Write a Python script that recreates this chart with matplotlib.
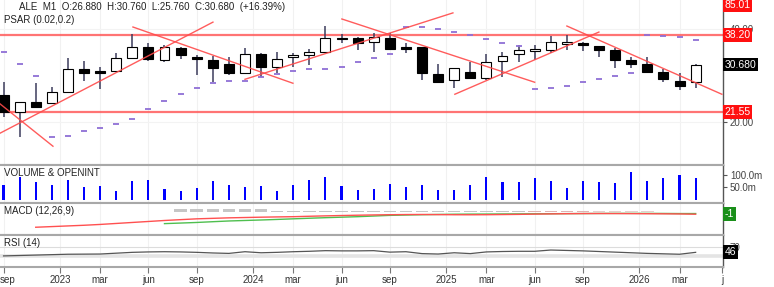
import matplotlib
matplotlib.use("Agg")
import matplotlib.pyplot as plt
import matplotlib.transforms as mtransforms
from matplotlib.ticker import NullLocator, FixedLocator

plt.rcParams['font.family'] = ['Liberation Sans', 'DejaVu Sans']

# ---------------- data (monthly, Sep 2022 .. Apr 2026) ----------------
opens  = [24.45, 21.6, 23.27, 23.0, 25.07, 29.65, 29.3, 29.25, 32.2, 35.1, 31.8, 34.8,
          32.5, 31.8, 30.8, 28.9, 33.1, 30.2, 32.4, 33.0, 33.6, 37.5, 37.5, 36.4,
          37.3, 34.9, 34.9, 28.5, 27.4, 28.96, 27.85, 31.6, 33.2, 33.95, 34.2, 35.8,
          36.1, 35.2, 34.2, 31.8, 30.8, 28.96, 27.1, 26.88]
highs  = [27.0, 23.3, 26.8, 26.0, 32.2, 31.6, 30.2, 33.4, 38.5, 35.96, 35.5, 35.0,
          33.0, 32.7, 32.4, 34.6, 33.4, 33.6, 33.4, 34.4, 40.9, 38.4, 37.6, 38.9,
          38.7, 36.1, 35.0, 30.8, 29.9, 31.2, 33.1, 33.8, 35.5, 35.5, 37.96, 38.2,
          36.3, 35.3, 34.6, 32.4, 32.4, 29.65, 28.9, 30.76]
lows   = [20.8, 17.9, 22.2, 22.9, 25.0, 27.1, 25.5, 29.1, 32.0, 31.4, 31.2, 31.9,
          28.4, 27.0, 28.4, 28.8, 28.05, 28.75, 30.2, 30.6, 33.5, 36.1, 34.2, 33.8,
          34.3, 33.4, 27.4, 26.9, 25.7, 27.7, 27.4, 27.9, 31.2, 31.8, 33.4, 34.2,
          34.0, 32.4, 29.9, 29.9, 28.75, 27.0, 25.4, 25.76]
closes = [21.6, 23.27, 22.3, 25.07, 29.65, 28.9, 28.9, 32.3, 35.1, 31.9, 35.1, 33.0,
          32.0, 30.0, 28.9, 33.1, 30.2, 31.9, 33.0, 33.8, 37.3, 37.0, 36.1, 37.8,
          34.4, 34.5, 28.75, 26.95, 29.9, 27.85, 31.2, 32.8, 34.2, 34.4, 36.4, 36.4,
          35.4, 34.2, 31.8, 30.8, 28.96, 27.6, 26.2, 30.68]
psar   = [33.6, 30.8, 28.2, 17.9, 18.05, 18.7, 19.2, 19.7, 20.5, 22.0, 23.4, 24.6,
          25.7, 26.8, 27.1, 27.1, 28.0, 28.5, 29.25, 29.8, 29.8, 30.2, 31.3, 32.3,
          33.1, 40.7, 40.5, 39.9, 39.2, 38.2, 37.1, 36.1, 35.3, 25.6, 25.7, 26.2,
          26.9, 27.6, 28.2, 28.9, 38.25, 38.05, 37.6, 36.85]
volume_m = [59, 93, 72, 59, 79, 50, 55, 35, 75, 79, 41, 35,
            47, 75, 59, 50, 55, 36, 59, 79, 93, 56, 39, 41,
            62, 52, 59, 39, 39, 59, 93, 70, 70, 86, 75, 47,
            75, 72, 67, 113, 76, 86, 100, 86]
macd_start = 2
macd_line = [-4.55, -4.35, -4.15, -3.95, -3.7, -3.4, -3.1, -2.8, -2.5, -2.25, -2.0, -1.85,
             -1.7, -1.6, -1.5, -1.42, -1.35, -1.22, -1.1, -1.0, -0.9, -0.82, -0.75, -0.7,
             -0.68, -0.72, -0.76, -0.77, -0.75, -0.7, -0.65, -0.57, -0.5, -0.44, -0.4, -0.39,
             -0.4, -0.42, -0.45, -0.48, -0.52, -0.6]
signal_start = 10
signal_line = [-3.45, -3.28, -3.1, -2.87, -2.65, -2.5, -2.35, -2.18, -2.0, -1.82, -1.65, -1.5,
               -1.35, -1.15, -0.95, -0.85, -0.75, -0.67, -0.6, -0.57, -0.55, -0.52, -0.5, -0.47,
               -0.45, -0.42, -0.4, -0.37, -0.35, -0.35, -0.35, -0.37, -0.4, -0.4]
hist_start = 11
macd_hist = [0.9, 0.9, 0.9, 0.9, 0.9, 0.9, 0.5, 0.5, 0.5, 0.5, 0.5, 0.5, 0.5, 0.5,
             0.3, 0.3, 0.3, 0.3, 0.3, 0.3, 0.3, 0.3, 0.4, 0.4, 0.4, 0.4, 0.3, 0.3, 0.3, 0.3]
rsi = [29, 31, 33, 35, 37, 37.5, 38, 42, 46, 48, 49, 48, 46, 43, 41, 49, 44, 46, 49, 51,
       54, 53, 53, 54, 47, 49, 40, 38, 44, 40, 48, 50, 51, 51, 57, 55, 53, 50, 47, 44,
       41, 39, 37, 46]
# trend lines: (month index start, price start, month index end, price end)
trend_lines = [(-0.22, 22.9, 3.07, 16.7), (-0.22, 18.4, 13.01, 42.1),
               (8.04, 40.6, 17.98, 26.7), (15.0, 27.5, 27.92, 45.1),
               (21.02, 43.1, 33.0, 26.9), (28.04, 24.6, 36.99, 39.1),
               (35.0, 40.9, 44.63, 24.6)]
levels = [38.20, 21.55]
tick_pos = [0, 3.5, 6, 9, 12, 15.5, 18, 21, 24, 27.5, 30, 33, 36, 39.5, 42, 44.63]
tick_lab = ['sep', '2023', 'mar', 'jun', 'sep', '2024', 'mar', 'jun', 'sep', '2025',
            'mar', 'jun', 'sep', '2026', 'mar', 'j']
header = "ALE  M1  O:26.880  H:30.760  L:25.760  C:30.680  (+16.39%)"

# ---------------- figure ----------------
W, H = 774, 287
fig = plt.figure(figsize=(W / 100, H / 100), dpi=100)
fig.patch.set_facecolor('white')
AXW = 723 / W

def mk(top, bot):
    return fig.add_axes([0, 1 - bot / H, AXW, (bot - top) / H])

ax = mk(0, 165)
axv = mk(165, 203)
axm = mk(203, 235)
axr = mk(235, 267)
XL = (-0.22, 44.7)
SEP = '#a8a8a8'
for a in (ax, axv, axm, axr):
    a.set_xlim(*XL)
    a.set_facecolor('white')
    a.spines['left'].set_visible(False)
    a.spines['right'].set_color('#555555')
    a.spines['right'].set_linewidth(1.0)
    a.spines['top'].set_color(SEP)
    a.spines['top'].set_linewidth(1.5)
    a.spines['bottom'].set_color(SEP)
    a.spines['bottom'].set_linewidth(1.5)
    a.yaxis.tick_right()
    a.tick_params(axis='y', length=3, width=0.8, color='#555555', labelsize=7,
                  labelcolor='#444444', pad=2)
    a.set_xticks(tick_pos)
    a.xaxis.set_minor_locator(NullLocator())
    for t in tick_pos[:-1]:
        a.axvline(t, color='#f1f1f1', lw=0.8, zorder=0)
    if a is not axr:
        a.tick_params(axis='x', length=0, labelbottom=False)
ax.spines['top'].set_visible(False)

axr.set_xticklabels(tick_lab)
axr.tick_params(axis='x', length=4, width=0.8, color='#777777', labelsize=7,
                labelcolor='#333333', pad=2)
first = axr.get_xticklabels()[0]
first.set_horizontalalignment('left')
first.set_transform(first.get_transform() +
                    mtransforms.ScaledTranslation(-3.5 / 100, 0, fig.dpi_scale_trans))

# ---------------- main price panel ----------------
ax.set_yscale('log')
ax.set_ylim(14.52, 49.65)
ax.yaxis.set_major_locator(FixedLocator([20, 40]))
ax.yaxis.set_minor_locator(NullLocator())
ax.set_yticklabels(['20.00', '40.00'])
for lv in (20, 40):
    ax.axhline(lv, color='#f3f3f3', lw=0.8, zorder=0)

n = len(closes)
xs = list(range(n))
ax.vlines(xs, lows, highs, color='#3c3c5c', lw=1.1, zorder=3)
bw = 0.62
for i in xs:
    o, c = opens[i], closes[i]
    lo, hi = min(o, c), max(o, c)
    if hi - lo < 0.12:
        hi = lo + 0.12
    if c >= o:
        ax.bar(i, hi - lo, bottom=lo, width=bw, facecolor='white', edgecolor='black',
               linewidth=0.8, zorder=4)
    else:
        ax.bar(i, hi - lo, bottom=lo, width=bw, facecolor='black', edgecolor='black',
               linewidth=0.8, zorder=4)

ax.plot(xs, psar, linestyle='none', marker='_', markersize=5, mew=1.3,
        color='#8f6fd6', zorder=5)

for lv in levels:
    ax.axhline(lv, color='#ff5c5c', lw=1.6, alpha=0.85, zorder=2)
for (x0, p0, x1, p1) in trend_lines:
    ax.plot([x0, x1], [p0, p1], color='#ff4a4a', lw=1.0, alpha=0.9, zorder=6)

def tag(a, y, s, fc, tc='white', trans=None):
    a.text(1.002, y, s, transform=trans if trans is not None else a.get_yaxis_transform(),
           ha='left', va='center', fontsize=7.5, color=tc, zorder=10, clip_on=False,
           bbox=dict(boxstyle='square,pad=0.18', fc=fc, ec='none'))

tag(ax, 1 - 5.5 / 165, '85.01', '#ff1010', trans=ax.transAxes)
tag(ax, levels[0], '38.20', '#ff1010')
tag(ax, closes[-1], '30.680', '#000000')
tag(ax, levels[1], '21.55', '#ff1010')

fig.text(19 / W, 1 - 7.4 / H, header, fontsize=7, color='#222222', va='center', ha='left')
fig.text(4 / W, 1 - 20.3 / H, 'PSAR (0.02,0.2)', fontsize=7, color='#222222',
         va='center', ha='left')

# ---------------- volume ----------------
axv.set_ylim(-14.2, 140.2)
axv.bar(xs, volume_m, width=0.13, color='#0000ff', zorder=3)
axv.set_yticks([50, 100])
axv.set_yticklabels(['50.0m', '100.0m'])
axv.text(4 / 723, 1 - 8 / 38, 'VOLUME & OPENINT', transform=axv.transAxes, fontsize=7,
         color='#222222', va='center', ha='left')

# ---------------- MACD ----------------
axm.set_ylim(-6.9, 2.8)
axm.set_yticks([])
mx = list(range(macd_start, macd_start + len(macd_line)))
sx = list(range(signal_start, signal_start + len(signal_line)))
hx = list(range(hist_start, hist_start + len(macd_hist)))
hcol = []
for i in hx:
    if i < 33:
        hcol.append('#c6c6c6')
    elif i < 37:
        hcol.append('#dfb3b3')
    else:
        hcol.append('#e6cfcf')
axm.bar(hx, macd_hist, width=0.78, color=hcol, zorder=2)
axm.plot(sx, signal_line, color='#4fbf4f', lw=1.0, zorder=3)
axm.plot(mx, macd_line, color='#ff5050', lw=1.0, zorder=4)
axm.text(4 / 723, 1 - 8 / 32, 'MACD (12,26,9)', transform=axm.transAxes, fontsize=7,
         color='#222222', va='center', ha='left')
tag(axm, -0.5, '-1', '#1a8f1a')

# ---------------- RSI ----------------
axr.set_ylim(-23.8, 128.6)
axr.set_yticks([70])
axr.set_yticklabels(['70'])
axr.axhline(70, color='#dcdcdc', lw=0.8, zorder=1)
axr.axhline(30, color='#e4e4e4', lw=2.6, zorder=1)
axr.plot(xs, rsi, color='#555555', lw=0.9, zorder=3)
axr.text(4 / 723, 1 - 8 / 32, 'RSI (14)', transform=axr.transAxes, fontsize=7,
         color='#222222', va='center', ha='left')
tag(axr, rsi[-1], '46', '#000000')

fig.savefig('out.png', dpi=100, facecolor='white')
